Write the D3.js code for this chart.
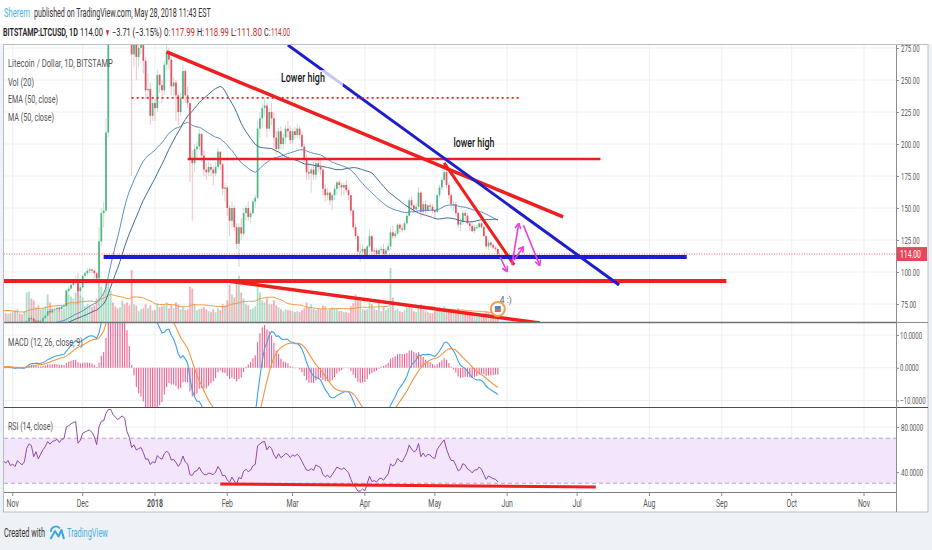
<!DOCTYPE html>
<html>
<head>
<meta charset="utf-8">
<script src="https://cdn.jsdelivr.net/npm/d3@7"></script>
<style>
  html, body { margin: 0; padding: 0; background: #eef1f5; }
  svg { display: block; font-family: Roboto, "Open Sans", sans-serif; }
</style>
</head>
<body>
<svg id="chart" width="932" height="550"></svg>
<script>
// LTCUSD daily, BITSTAMP. Rows are [high, low, close, volume(10k LTC)], one per day.
// Sep/Oct 2017 rows only warm up the indicators (off screen / below the panel).
const sep17 = [[76,70,72,26],[74,70,72,20],[73,66,68,22],[70,65,67,18],[68,62,64,24],[65,56,58,30],[58,43,46,42],[55,45,53,38],[55,50,52,22],[53,49,50,18],[57,50,56,26],[56,51,52,20],[54,51,52,17],[53,46,47,21],[49,46,48,16],[50,47,49,14],[50,47,48,13],[51,47,50,15],[50,48,49,14],[54,49,53,20],[54,52,53,17],[54,50,51,15],[55,51,54,18]];
const oct17 = [[55,53,54,9],[55,52,52,9],[53,51,52,8],[53,50,51,8],[52,50,51,7],[53,51,52,7],[53,51,52,6],[55,51,54,8],[54,50,51,9],[52,49,50,10],[53,50,52,10],[59,52,58,20],[63,57,61,22],[62,59,61,14],[61,56,58,13],[60,57,59,11],[59,55,56,12],[58,53,57,11],[61,56,60,13],[62,59,61,12],[62,58,59,10],[60,55,56,11],[57,54,55,12],[57,54,56,10],[56,54,55,9],[57,54,56,9],[57,55,56,8],[58,55,57,9],[58,55,56,9],[58,56,57,8],[57,54,55,9]];
const nov17 = [[56.5,54,55.5,10],[56,53,54.5,12],[57.5,54,56.5,13],[57,55,55.8,9],[56.5,54.5,55,8],[57,54.5,56,11],[62.5,55.5,61.5,30],[65.5,60.5,64,31],[66,62,63.5,24],[64,58,59.5,22],[63,58.5,62,15],[62.5,57.5,59,17],[62.5,58.5,61.5,13],[64.5,61,64,14],[66.5,63.5,66,16],[70.5,65.5,69.5,28],[71,67.5,68.5,20],[71,67.5,70.5,14],[72,69.5,71,12],[73,70,72,13],[72.5,69,71,15],[73.5,70.5,73,12],[75,72,73.5,14],[86,73,85,33],[89,83,87,28],[91,86,90,26],[93.5,89,92.5,24],[97,91,94,30],[99,75,85,38],[90,80,88,27]];
const dec17 = [[98,87,97,25],[100,95,99,16],[103,97,101,18],[104,99,102,17],[103,99,101,15],[102,95,99,17],[100,92,95,24],[135,94,124,42],[150,120,146,36],[155,135,148,30],[220,146,209,40],[310,205,300,44],[340,285,315,32],[325,290,305,20],[312,285,300,16],[310,285,295,14],[330,290,320,15],[370,315,350,22],[365,320,345,18],[350,300,315,20],[330,285,300,17],[305,175,270,53],[300,260,285,18],[290,250,268,17],[285,260,275,11],[295,270,280,13],[285,255,265,14],[268,235,242,18],[255,235,243,14],[248,215,222,17],[238,218,232,12]];
const jan18 = [[235,218,228,12],[258,225,254,19],[255,240,246,15],[250,232,242,16],[265,238,262,17],[282,258,272,20],[275,258,266,14],[268,238,245,18],[252,238,248,14],[250,218,238,20],[240,215,225,18],[240,222,236,13],[262,235,257,15],[258,232,238,12],[245,228,232,13],[232,170,188,36],[195,140,185,34],[200,178,196,18],[202,188,198,12],[212,195,208,13],[208,186,191,14],[195,175,180,15],[185,172,178,13],[186,175,182,11],[185,175,180,10],[183,168,177,13],[186,175,182,10],[197,180,194,14],[194,180,184,12],[185,160,165,18],[170,155,166,17]];
const feb18 = [[167,144,150,22],[152,128,140,38],[155,135,150,28],[152,132,135,25],[138,118,122,40],[138,104,135,47],[142,125,130,30],[150,128,146,24],[152,140,150,18],[155,140,143,17],[148,138,146,13],[157,145,155,14],[160,150,158,16],[218,157,212,40],[225,205,220,30],[232,212,228,22],[236,222,230,20],[232,205,212,24],[228,210,225,18],[232,215,220,18],[224,195,205,22],[210,192,196,17],[213,194,210,15],[214,196,200,13],[208,196,205,11],[215,200,212,13],[218,205,210,12],[214,200,203,12]];
const mar18 = [[212,200,210,11],[213,204,207,10],[216,205,212,11],[214,204,207,10],[210,196,198,12],[200,186,188,14],[192,172,178,20],[185,172,177,15],[182,162,180,18],[186,172,176,13],[188,172,185,12],[190,178,182,14],[188,176,180,13],[182,160,165,17],[168,155,160,16],[166,156,162,12],[163,152,156,13],[161,148,160,15],[168,156,165,14],[171,160,170,13],[172,164,168,11],[170,160,166,11],[170,160,168,10],[172,162,164,10],[166,156,160,9],[160,144,148,16],[149,133,135,19],[138,126,128,28],[130,112,116,25],[122,108,116,22],[122,113,118,13]];
const apr18 = [[119,110,113,12],[121,112,120,13],[133,119,128,20],[129,114,116,18],[119,112,117,14],[119,112,114,12],[119,112,117,23],[120,115,118,11],[122,112,114,15],[119,113,117,12],[123,116,120,14],[135,118,131,55],[136,126,128,25],[132,126,130,12],[138,129,137,13],[138,131,134,11],[137,131,133,10],[140,132,138,12],[146,137,144,15],[158,142,156,18],[159,148,152,14],[153,146,149,11],[154,147,151,10],[166,150,162,17],[163,142,147,18],[155,144,153,12],[156,146,148,11],[153,147,152,10],[154,148,151,9],[153,146,148,9]];
const may18 = [[149,142,147,11],[161,146,160,14],[168,158,166,15],[174,164,172,14],[185,170,178,16],[180,165,168,13],[170,157,160,12],[162,150,153,11],[156,148,153,10],[155,144,146,10],[147,134,137,14],[142,132,139,11],[148,137,146,9],[148,140,144,10],[146,137,138,9],[139,132,136,9],[139,131,132,8],[137,130,135,8],[137,133,135,7],[140,134,138,7],[139,134,135,7],[136,127,128,9],[129,118,120,11],[125,117,123,10],[124,119,121,8],[122,118,119,6],[120,116,117.99,6],[118.99,111.80,114.00,5]];
const monthStarts = ['2017-09-08','2017-10-01','2017-11-01','2017-12-01','2018-01-01','2018-02-01','2018-03-01','2018-04-01','2018-05-01'];
const monthRows = [sep17, oct17, nov17, dec17, jan18, feb18, mar18, apr18, may18];

// quote line of the header, as printed
const quoteValues = ['114.00', '−3.71 (−3.15%)', '117.99', '118.99', '111.80', '114.00'];

// axis ticks
const priceTicks = [75, 100, 125, 150, 175, 200, 225, 250, 275];
const macdTicks = [10, 0, -10];
const rsiTicks = [80, 40];
const rsiBand = [70, 30];
const monthTicks = ['2017-11-01','2017-12-01','2018-01-01','2018-02-01','2018-03-01','2018-04-01','2018-05-01','2018-06-01','2018-07-01','2018-08-01','2018-09-01','2018-10-01','2018-11-01'];
const monthLabels = ['Nov','Dec','2018','Feb','Mar','Apr','May','Jun','Jul','Aug','Sep','Oct','Nov'];

// drawings on the chart: [date, price] anchors
const redLines = [
  [['2018-01-06', 272], ['2018-06-25', 143]],
  [['2018-01-15', 188.3], ['2018-07-11', 188.3]],
  [['2018-05-05', 185.2], ['2018-06-04', 105.5]],
  [['2017-10-28', 93], ['2018-09-03', 93]],
  [['2018-02-01', 93], ['2018-06-15', 60.2]]
];
const blueLines = [
  [['2018-02-27', 277.3], ['2018-07-19', 89.8]],
  [['2017-12-10', 111.7], ['2018-08-17', 111.7]]
];
const dottedLine = [['2017-12-22', 236], ['2018-06-07', 236]];
const arrows = [
  [['2018-05-29', 111.6], ['2018-06-01', 100.2]],
  [['2018-06-03', 105.5], ['2018-06-06', 138]],
  [['2018-06-04', 109.4], ['2018-06-08', 119.8]],
  [['2018-06-08', 136.4], ['2018-06-15', 105]]
];
const notes = [['Lower high', '2018-02-24', 248.4], ['lower high', '2018-05-09', 197.7]];
const rsiLine = [['2018-01-29', 29.3], ['2018-07-09', 26.7]];

// ---------- build bars + indicators ----------
const bars = [];
monthRows.forEach((rows, m) => {
  const t0 = new Date(monthStarts[m] + 'T00:00:00Z');
  rows.forEach((r, i) => bars.push({ date: d3.utcDay.offset(t0, i), high: r[0], low: r[1], close: r[2], vol: r[3] }));
});
bars.forEach((b, i) => { b.open = i ? bars[i - 1].close : b.close; });

function ema(v, n){
  const k = 2 / (n + 1); let prev;
  return v.map((x, i) => (prev = i === 0 ? x : x * k + prev * (1 - k)));
}
function sma(v, n){
  return v.map((x, i) => i < n - 1 ? null : d3.mean(v.slice(i - n + 1, i + 1)));
}
function rsiCalc(v, n){
  const out = [null]; let ag = 0, al = 0;
  for (let i = 1; i < v.length; i++){
    const ch = v[i] - v[i - 1], g = Math.max(ch, 0), l = Math.max(-ch, 0);
    if (i <= n){ ag += g / n; al += l / n; out.push(i === n ? 100 - 100 / (1 + ag / (al || 1e-9)) : null); }
    else { ag = (ag * (n - 1) + g) / n; al = (al * (n - 1) + l) / n; out.push(100 - 100 / (1 + ag / (al || 1e-9))); }
  }
  return out;
}
const closes = bars.map(b => b.close);
const ema50 = ema(closes, 50), ma50 = sma(closes, 50);
const e12 = ema(closes, 12), e26 = ema(closes, 26);
const macd = e12.map((v, i) => v - e26[i]);
const signal = ema(macd, 9);
const rsi = rsiCalc(closes, 14);
const volMa = sma(bars.map(b => b.vol), 20);
bars.forEach((b, i) => Object.assign(b, { ema50: ema50[i], ma50: ma50[i], macd: macd[i], signal: signal[i], hist: macd[i] - signal[i], rsi: rsi[i], volMa: volMa[i] }));

const firstShown = new Date('2017-10-27T00:00:00Z');
const shown = bars.filter(b => b.date >= firstShown);
const last = bars[bars.length - 1];

// ---------- layout ----------
const svg = d3.select('#chart');
const L = 4, R = 896, AX = 928;
const P = { top: 45, bottom: 322 }, M = { top: 323, bottom: 407 }, S = { top: 408, bottom: 492 };
const up = '#4fb382', down = '#e8505f';
const red = '#f01e1e', blue = '#1c1cd0';

const day = s => new Date(s + 'T00:00:00Z');
const x = d3.scaleUtc().domain([day('2017-11-01'), day('2018-11-01')]).range([12.7, 864]);
const y = d3.scaleLinear().domain([75, 150]).range([304, 208]);
const yv = d3.scaleLinear().domain([0, d3.max(shown, b => b.vol)]).range([P.bottom, P.bottom - 54]);
const ym = d3.scaleLinear().domain([10, -10]).range([335, 400.5]);
const yr = d3.scaleLinear().domain([80, 40]).range([427, 472]);

// narrow text: the snapshot is squeezed sideways, so glyphs are scaled in x
function txt(g, s, px, py, o = {}){
  const gg = g.append('g').attr('transform', `translate(${px},${py})`);
  const t = gg.append('text').text(s)
    .attr('font-size', o.size || 10.5).attr('fill', o.color || '#555')
    .attr('font-weight', o.weight || 400).attr('text-anchor', o.anchor || 'start');
  const n = t.node().getComputedTextLength();
  const sx = o.w ? o.w / n : (o.f || 0.64);
  t.attr('transform', `scale(${sx},1)`);
  return t;
}

// backgrounds
svg.append('rect').attr('width', 932).attr('height', 44).attr('fill', '#ffffff');
svg.append('rect').attr('x', 3.5).attr('y', 44.5).attr('width', AX - 3.5).attr('height', 512 - 44.5)
  .attr('fill', '#fff').attr('stroke', '#b8bec6');

const defs = svg.append('defs');
[['cp-main', P], ['cp-macd', M], ['cp-rsi', S]].forEach(([id, p]) => {
  defs.append('clipPath').attr('id', id).append('rect')
    .attr('x', L).attr('y', p.top).attr('width', R - L).attr('height', p.bottom - p.top);
});

// grids
const grid = svg.append('g').attr('stroke', '#edf0f3').attr('stroke-width', 1);
monthTicks.forEach(d => grid.append('line').attr('x1', x(day(d))).attr('x2', x(day(d))).attr('y1', P.top).attr('y2', S.bottom));
priceTicks.forEach(v => grid.append('line').attr('x1', L).attr('x2', R).attr('y1', y(v)).attr('y2', y(v)));
macdTicks.forEach(v => grid.append('line').attr('x1', L).attr('x2', R).attr('y1', ym(v)).attr('y2', ym(v)));
rsiTicks.forEach(v => grid.append('line').attr('x1', L).attr('x2', R).attr('y1', yr(v)).attr('y2', yr(v)));

// ---------- main panel ----------
const gm = svg.append('g').attr('clip-path', 'url(#cp-main)');
gm.append('g').selectAll('rect').data(shown).join('rect')
  .attr('x', b => x(b.date) - 0.9).attr('width', 1.8)
  .attr('y', b => yv(b.vol)).attr('height', b => P.bottom - yv(b.vol))
  .attr('fill', b => b.close >= b.open ? up : down).attr('opacity', 0.45);
gm.append('path').datum(shown.filter(b => b.volMa != null))
  .attr('fill', 'none').attr('stroke', '#f39c45').attr('stroke-width', 1)
  .attr('d', d3.line().x(b => x(b.date)).y(b => yv(b.volMa)));

gm.append('g').selectAll('line').data(shown).join('line')
  .attr('x1', b => x(b.date)).attr('x2', b => x(b.date))
  .attr('y1', b => y(b.high)).attr('y2', b => y(b.low))
  .attr('stroke', b => b.close >= b.open ? up : down).attr('stroke-width', 0.8).attr('opacity', 0.45);
gm.append('g').selectAll('rect').data(shown).join('rect')
  .attr('x', b => x(b.date) - 0.85).attr('width', 1.7)
  .attr('y', b => y(Math.max(b.open, b.close)))
  .attr('height', b => Math.max(1, Math.abs(y(b.open) - y(b.close))))
  .attr('fill', b => b.close >= b.open ? up : down);

[['ema50', '#5b8fc2'], ['ma50', '#3f6d93']].forEach(([k, c]) => {
  gm.append('path').datum(shown.filter(b => b[k] != null))
    .attr('fill', 'none').attr('stroke', c).attr('stroke-width', 1)
    .attr('d', d3.line().x(b => x(b.date)).y(b => y(b[k])));
});

// last price line
gm.append('line').attr('x1', L).attr('x2', R).attr('y1', y(last.close)).attr('y2', y(last.close))
  .attr('stroke', '#ee6b7a').attr('stroke-width', 1).attr('stroke-dasharray', '1,1.5');

// drawings
const pt = a => [x(day(a[0])), y(a[1])];
const seg = (g, a, b) => { const p = pt(a), q = pt(b); return g.append('line').attr('x1', p[0]).attr('y1', p[1]).attr('x2', q[0]).attr('y2', q[1]); };
const redWidths = [3.5, 2.5, 3, 4, 3.5];
redLines.forEach((l, i) => seg(gm, l[0], l[1]).attr('stroke', red).attr('stroke-width', redWidths[i]));
const blueWidths = [3, 4];
blueLines.forEach((l, i) => seg(gm, l[0], l[1]).attr('stroke', blue).attr('stroke-width', blueWidths[i]));
seg(gm, dottedLine[0], dottedLine[1]).attr('stroke', red).attr('stroke-width', 1.6).attr('stroke-dasharray', '2,3');

arrows.forEach(([a, b]) => {
  const p = pt(a), q = pt(b);
  const ang = Math.atan2(q[1] - p[1], q[0] - p[0]);
  const g = gm.append('g').attr('stroke', '#ea3fe0').attr('stroke-width', 1.6).attr('fill', 'none');
  g.append('line').attr('x1', p[0]).attr('y1', p[1]).attr('x2', q[0]).attr('y2', q[1]);
  [-0.5, 0.5].forEach(o => g.append('line').attr('x1', q[0]).attr('y1', q[1])
    .attr('x2', q[0] - 6 * Math.cos(ang + o)).attr('y2', q[1] - 6 * Math.sin(ang + o)));
});

notes.forEach(([s, d, v], i) => {
  const px = x(day(d)), py = y(v);
  if (i === 0) gm.append('rect').attr('x', px - 2).attr('y', py - 12).attr('width', 64).attr('height', 16).attr('fill', '#fff').attr('opacity', 0.75);
  txt(gm, s, px, py, { size: 12.5, color: '#151515', weight: 500, w: i === 0 ? 44 : 41 });
});

// little idea badge near the end of the bars
const badge = gm.append('g').attr('transform', `translate(${x(day('2018-05-28'))},${P.bottom - 13})`);
badge.append('circle').attr('r', 7).attr('fill', '#fff').attr('stroke', '#f4a14a').attr('stroke-width', 2);
badge.append('rect').attr('x', -3).attr('y', -3).attr('width', 6).attr('height', 3).attr('fill', '#5d7fc9');
badge.append('rect').attr('x', -3).attr('y', 0).attr('width', 6).attr('height', 3).attr('fill', '#e86060');
txt(badge, '4 :)', 2, -6, { size: 9, color: '#666', w: 12 });

// legend
txt(svg, 'Litecoin / Dollar, 1D, BITSTAMP', 8, 67, { w: 105 });
txt(svg, 'Vol (20)', 8, 85.5, { w: 26 });
txt(svg, 'EMA (50, close)', 8, 103, { w: 50 });
txt(svg, 'MA (50, close)', 8, 121, { w: 46 });

// ---------- MACD panel ----------
const gmc = svg.append('g').attr('clip-path', 'url(#cp-macd)');
gmc.append('g').selectAll('line').data(shown).join('line')
  .attr('x1', b => x(b.date)).attr('x2', b => x(b.date))
  .attr('y1', ym(0)).attr('y2', b => ym(b.hist))
  .attr('stroke', '#ee5f8f').attr('stroke-width', 1.1);
[['macd', '#3fa2e6'], ['signal', '#f5943c']].forEach(([k, c]) => {
  gmc.append('path').datum(shown).attr('fill', 'none').attr('stroke', c).attr('stroke-width', 1.1)
    .attr('d', d3.line().x(b => x(b.date)).y(b => ym(b[k])));
});
txt(svg, 'MACD (12, 26, close, 9)', 8, 346, { w: 75 });

// ---------- RSI panel ----------
const gr = svg.append('g').attr('clip-path', 'url(#cp-rsi)');
gr.append('rect').attr('x', L).attr('width', R - L).attr('y', yr(rsiBand[0])).attr('height', yr(rsiBand[1]) - yr(rsiBand[0]))
  .attr('fill', '#f3e6fc');
rsiBand.forEach(v => gr.append('line').attr('x1', L).attr('x2', R).attr('y1', yr(v)).attr('y2', yr(v))
  .attr('stroke', '#b7a7c8').attr('stroke-dasharray', '4,3'));
gr.append('path').datum(shown).attr('fill', 'none').attr('stroke', '#8f48ad').attr('stroke-width', 1)
  .attr('d', d3.line().x(b => x(b.date)).y(b => yr(b.rsi)));
{
  const p = [x(day(rsiLine[0][0])), yr(rsiLine[0][1])], q = [x(day(rsiLine[1][0])), yr(rsiLine[1][1])];
  gr.append('line').attr('x1', p[0]).attr('y1', p[1]).attr('x2', q[0]).attr('y2', q[1]).attr('stroke', red).attr('stroke-width', 3);
}
txt(svg, 'RSI (14, close)', 8, 430, { w: 45 });

// ---------- frames + axes ----------
const fr = svg.append('g');
fr.append('line').attr('x1', L).attr('x2', R).attr('y1', 322.5).attr('y2', 322.5).attr('stroke', '#6d7075').attr('stroke-width', 1.6);
fr.append('line').attr('x1', L).attr('x2', AX).attr('y1', 407.5).attr('y2', 407.5).attr('stroke', '#4a4d52').attr('stroke-width', 1.2);
fr.append('line').attr('x1', L).attr('x2', R).attr('y1', 492.5).attr('y2', 492.5).attr('stroke', '#7b7f85').attr('stroke-width', 1.2);
fr.append('line').attr('x1', R + 0.5).attr('x2', R + 0.5).attr('y1', P.top).attr('y2', 512).attr('stroke', '#8a8e94');
fr.append('line').attr('x1', R).attr('x2', AX).attr('y1', 322.5).attr('y2', 322.5).attr('stroke', '#8a8e94');

const SX = 0.64;
const axisText = (g) => g.call(s => s.select('.domain').remove())
  .call(s => s.selectAll('line').attr('stroke', '#8a8e94'))
  .call(s => s.selectAll('text').attr('fill', '#555').attr('font-size', 9.5).attr('font-family', 'Roboto, sans-serif')
    .each(function(){ const t = d3.select(this); t.attr('x', +t.attr('x') / SX).attr('transform', `scale(${SX},1)`); }));

const ga = svg.append('g').attr('transform', `translate(${R},0)`);
ga.call(d3.axisRight(y).tickValues(priceTicks).tickFormat(d3.format('.2f')).tickSize(3).tickPadding(2)).call(axisText);
const gb = svg.append('g').attr('transform', `translate(${R},0)`);
gb.call(d3.axisRight(ym).tickValues(macdTicks).tickFormat(d3.format('.4f')).tickSize(3).tickPadding(1)).call(axisText);
const gc = svg.append('g').attr('transform', `translate(${R},0)`);
gc.call(d3.axisRight(yr).tickValues(rsiTicks).tickFormat(d3.format('.4f')).tickSize(3).tickPadding(2)).call(axisText);

// last price tag
svg.append('rect').attr('x', R + 1).attr('y', y(last.close) - 7).attr('width', 30).attr('height', 14).attr('fill', '#e5475b');
txt(svg, d3.format('.2f')(last.close), R + 4, y(last.close) + 3.8, { size: 10, color: '#fff', w: 21 });

// time axis
const gt = svg.append('g');
monthTicks.forEach((d, i) => {
  const px = x(day(d));
  gt.append('line').attr('x1', px).attr('x2', px).attr('y1', 492.5).attr('y2', 496).attr('stroke', '#8a8e94');
  txt(gt, monthLabels[i], px, 507, { anchor: 'middle', size: 10.5, weight: monthLabels[i] === '2018' ? 700 : 400, f: 0.66 });
});

// ---------- header ----------
txt(svg, 'Sherem', 4, 17, { size: 12.5, color: '#48b4e6', w: 26 });
txt(svg, 'published on TradingView.com, May 28, 2018 11:43 EST', 34, 17, { size: 12.5, color: '#333', w: 177 });
const head = [
  ['BITSTAMP:LTCUSD, 1D', 3, 75, '#222', 600],
  [quoteValues[0], 80, 23, '#222', 400],
  ['▼', 105, 5, '#d3202e', 400],
  [quoteValues[1], 112, 50, '#222', 400],
  ['O:', 164, 6, '#222', 400], [quoteValues[2], 171, 24, '#c62828', 400],
  ['H:', 197, 7, '#222', 400], [quoteValues[3], 205, 24, '#c62828', 400],
  ['L:', 231, 5.5, '#222', 400], [quoteValues[4], 237, 25, '#c62828', 400],
  ['C:', 264, 6.5, '#222', 400], [quoteValues[5], 271, 19, '#c62828', 400]
];
head.forEach(([s, px, w, c, fw]) => txt(svg, s, px, 36, { size: 10, color: c, weight: fw, w }));

// ---------- footer ----------
txt(svg, 'Created with', 4, 537, { size: 12.5, color: '#333', w: 41 });
svg.append('path').attr('d', 'M50.5,539 L55,531 L58.5,536.5 L61.5,530 L64,539')
  .attr('fill', 'none').attr('stroke', '#3aa9df').attr('stroke-width', 2).attr('stroke-linejoin', 'round');
svg.append('path').attr('d', 'M51,532 A5,5 0 0 1 60,528.5').attr('fill', 'none').attr('stroke', '#3aa9df').attr('stroke-width', 1.8);
txt(svg, 'TradingView', 67, 537, { size: 12.5, color: '#45b1e2', w: 41 });
</script>
</body>
</html>
